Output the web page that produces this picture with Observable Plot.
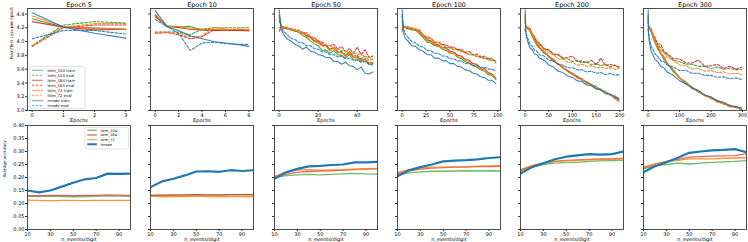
<!DOCTYPE html>
<html><head><meta charset="utf-8">
<script src="https://cdn.jsdelivr.net/npm/d3@7"></script>
<script src="https://cdn.jsdelivr.net/npm/@observablehq/plot@0.6"></script>
<style>
body{margin:0;background:#fff}
#fig{position:relative;width:748px;height:242px;overflow:hidden;font-family:"DejaVu Sans",sans-serif;background:#fff}
</style></head><body><div id="fig"></div>
<script>
// ---------- Loss data (top row) ----------
const x5 = [0,1,2,3];
const loss5_lstm104_train = [4.33,4.21,4.20,4.18];
const loss5_lstm104_eval  = [3.94,4.24,4.29,4.27];
const loss5_lstm164_train = [4.29,4.21,4.17,4.18];
const loss5_lstm164_eval  = [3.93,4.20,4.24,4.24];
const loss5_lstm72_train  = [4.37,4.22,4.19,4.18];
const loss5_lstm72_eval   = [3.94,4.21,4.26,4.26];
const loss5_inrode_train  = [4.42,4.21,4.12,4.05];
const loss5_inrode_eval   = [4.04,4.16,4.16,4.11];

const x10 = [0,1,2,3,4,5,6,7,8];
const loss10_lstm104_train = [4.38,4.22,4.21,4.22,4.17,4.17,4.17,4.17,4.16];
const loss10_lstm104_eval  = [4.14,4.14,4.14,4.10,4.18,4.20,4.20,4.20,4.20];
const loss10_lstm164_train = [4.36,4.23,4.20,4.18,4.17,4.16,4.16,4.16,4.16];
const loss10_lstm164_eval  = [4.12,4.13,4.10,4.04,4.07,4.17,4.17,4.17,4.15];
const loss10_lstm72_train  = [4.40,4.22,4.22,4.19,4.18,4.18,4.17,4.18,4.17];
const loss10_lstm72_eval   = [4.13,4.14,4.12,4.07,4.08,4.21,4.18,4.18,4.18];
const loss10_inrode_train  = [4.45,4.22,4.16,4.08,4.04,4.00,3.98,3.96,3.93];
const loss10_inrode_eval   = [4.32,4.22,4.12,3.87,3.98,3.99,3.97,3.96,3.96];

const x50 = [0,1,2,4,6,8,10,12,14,16,18,20,22,24,26,28,30,32,34,36,38,40,42,44,46,48];
const loss50_lstm104_train = [4.38,4.22,4.21,4.18,4.19,4.15,4.14,4.09,4.06,4.01,3.97,3.94,3.87,3.88,3.83,3.87,3.81,3.80,3.76,3.81,3.74,3.75,3.71,3.74,3.67,3.68];
const loss50_lstm104_eval  = [4.20,4.21,4.19,4.20,4.17,4.17,4.13,4.14,4.09,4.07,4.01,3.99,3.94,3.95,3.89,3.90,3.85,3.86,3.81,3.85,3.79,3.80,3.75,3.79,3.73,3.74];
const loss50_lstm164_train = [4.36,4.23,4.20,4.20,4.17,4.17,4.13,4.13,4.08,4.07,4.01,4.00,3.95,3.94,3.88,3.92,3.85,3.84,3.79,3.85,3.77,3.78,3.73,3.75,3.69,3.70];
const loss50_lstm164_eval  = [4.15,4.21,4.22,4.19,4.19,4.16,4.16,4.12,4.13,4.07,4.06,4.01,3.99,3.95,3.94,3.96,3.89,3.93,3.85,3.90,3.83,3.92,3.81,3.88,3.77,3.79];
const loss50_lstm72_train  = [4.40,4.22,4.21,4.21,4.17,4.18,4.13,4.13,4.07,4.05,4.00,3.98,3.94,3.93,3.87,3.91,3.84,3.84,3.79,3.83,3.77,3.77,3.73,3.74,3.69,3.69];
const loss50_lstm72_eval   = [4.16,4.21,4.21,4.19,4.19,4.16,4.17,4.13,4.13,4.06,4.05,3.99,3.98,3.94,3.94,3.90,3.89,3.87,3.86,3.83,3.83,3.82,3.81,3.78,3.78,3.74];
const loss50_inrode_train  = [4.46,4.18,4.12,4.04,4.01,3.96,3.94,3.89,3.92,3.86,3.85,3.81,3.80,3.77,3.77,3.71,3.71,3.67,3.70,3.65,3.64,3.59,3.63,3.54,3.53,3.56];
const loss50_inrode_eval   = [4.30,4.22,4.16,4.10,4.05,4.03,3.99,3.98,3.94,3.94,3.90,3.89,3.85,3.85,3.81,3.81,3.78,3.79,3.75,3.76,3.73,3.73,3.70,3.71,3.67,3.66];

const x100 = [0,1,3,6,10,14,18,22,26,30,34,38,42,46,50,54,58,62,66,70,74,78,82,86,90,94,98];
const loss100_lstm104_train = [4.38,4.22,4.20,4.19,4.17,4.17,4.11,4.06,3.99,3.98,3.94,3.93,3.89,3.87,3.83,3.83,3.77,3.75,3.71,3.69,3.65,3.63,3.59,3.57,3.52,3.51,3.45];
const loss100_lstm104_eval  = [4.18,4.20,4.21,4.18,4.19,4.16,4.15,4.07,4.05,4.00,3.99,3.95,3.96,3.91,3.91,3.88,3.89,3.85,3.85,3.81,3.81,3.78,3.79,3.75,3.76,3.72,3.73];
const loss100_lstm164_train = [4.36,4.23,4.21,4.21,4.18,4.18,4.13,4.09,4.02,4.01,3.96,3.95,3.91,3.91,3.86,3.85,3.80,3.79,3.74,3.73,3.68,3.67,3.62,3.61,3.55,3.53,3.47];
const loss100_lstm164_eval  = [4.15,4.21,4.22,4.19,4.20,4.17,4.17,4.09,4.07,4.05,3.99,3.99,3.96,3.95,3.92,3.92,3.88,3.89,3.84,3.86,3.81,3.82,3.77,3.79,3.74,3.76,3.69];
const loss100_lstm72_train  = [4.40,4.22,4.21,4.21,4.18,4.18,4.12,4.08,4.01,4.00,3.95,3.94,3.90,3.89,3.84,3.83,3.78,3.77,3.72,3.71,3.66,3.65,3.60,3.59,3.54,3.52,3.46];
const loss100_lstm72_eval   = [4.16,4.21,4.21,4.20,4.18,4.19,4.14,4.10,4.04,4.04,3.99,3.99,3.95,3.94,3.90,3.91,3.87,3.87,3.83,3.83,3.80,3.80,3.76,3.77,3.73,3.73,3.70];
const loss100_inrode_train  = [4.46,4.15,4.05,4.01,3.94,3.93,3.88,3.86,3.81,3.81,3.76,3.76,3.72,3.72,3.68,3.68,3.64,3.63,3.59,3.58,3.54,3.53,3.49,3.48,3.44,3.44,3.39];
const loss100_inrode_eval   = [4.30,4.20,4.12,4.06,4.00,3.98,3.93,3.92,3.87,3.87,3.83,3.83,3.79,3.79,3.75,3.75,3.72,3.72,3.68,3.69,3.65,3.66,3.62,3.63,3.60,3.60,3.57];

const x200 = [0,1,3,6,10,15,20,25,30,40,50,60,70,80,90,100,110,120,130,140,150,160,170,180,190,198];
const loss200_lstm104_train = [4.38,4.22,4.20,4.19,4.16,4.07,4.01,3.94,3.91,3.83,3.79,3.71,3.68,3.61,3.58,3.52,3.50,3.44,3.42,3.37,3.35,3.29,3.28,3.22,3.21,3.16];
const loss200_lstm104_eval  = [4.18,4.20,4.21,4.18,4.18,4.10,4.05,3.98,3.96,3.89,3.87,3.81,3.81,3.75,3.75,3.71,3.73,3.69,3.71,3.66,3.68,3.65,3.67,3.63,3.66,3.62];
const loss200_lstm164_train = [4.36,4.23,4.21,4.21,4.15,4.11,4.01,3.98,3.91,3.86,3.78,3.74,3.67,3.63,3.57,3.54,3.48,3.46,3.40,3.38,3.32,3.31,3.25,3.23,3.18,3.15];
const loss200_lstm164_eval  = [4.15,4.21,4.22,4.19,4.19,4.11,4.07,4.00,3.98,3.90,3.88,3.82,3.81,3.76,3.77,3.79,3.71,3.72,3.69,3.73,3.66,3.76,3.65,3.67,3.65,3.64];
const loss200_lstm72_train  = [4.40,4.22,4.21,4.21,4.15,4.10,4.00,3.97,3.90,3.86,3.77,3.73,3.66,3.63,3.56,3.53,3.47,3.45,3.39,3.37,3.32,3.30,3.24,3.23,3.17,3.13];
const loss200_lstm72_eval   = [4.16,4.21,4.21,4.20,4.16,4.12,4.03,4.00,3.94,3.90,3.83,3.81,3.75,3.74,3.70,3.70,3.66,3.67,3.64,3.65,3.62,3.63,3.61,3.62,3.60,3.61];
const loss200_inrode_train  = [4.46,4.15,4.05,3.99,3.91,3.88,3.82,3.81,3.76,3.73,3.66,3.63,3.57,3.55,3.50,3.48,3.43,3.42,3.37,3.36,3.31,3.30,3.25,3.24,3.19,3.18];
const loss200_inrode_eval   = [4.30,4.18,4.10,4.04,3.96,3.93,3.87,3.86,3.81,3.79,3.73,3.72,3.67,3.66,3.62,3.62,3.59,3.59,3.56,3.57,3.54,3.55,3.52,3.54,3.51,3.52];

const x300 = [0,1,3,6,10,15,20,30,40,50,60,80,100,120,140,160,180,200,220,240,260,280,298];
const loss300_lstm104_train = [4.38,4.22,4.20,4.18,4.15,4.06,4.01,3.89,3.83,3.74,3.69,3.56,3.48,3.38,3.34,3.26,3.23,3.17,3.15,3.09,3.08,3.04,3.04];
const loss300_lstm104_eval  = [4.18,4.20,4.21,4.17,4.17,4.09,4.05,3.95,3.91,3.84,3.81,3.73,3.71,3.67,3.67,3.64,3.64,3.61,3.63,3.60,3.61,3.59,3.60];
const loss300_lstm164_train = [4.36,4.23,4.21,4.20,4.14,4.10,4.01,3.93,3.83,3.78,3.69,3.59,3.47,3.41,3.33,3.29,3.22,3.19,3.13,3.11,3.06,3.05,3.01];
const loss300_lstm164_eval  = [4.15,4.21,4.22,4.18,4.18,4.11,4.07,3.97,3.96,3.86,3.83,3.75,3.75,3.69,3.69,3.73,3.64,3.65,3.67,3.61,3.64,3.60,3.63];
const loss300_lstm72_train  = [4.40,4.22,4.21,4.20,4.14,4.09,4.00,3.92,3.82,3.77,3.68,3.59,3.47,3.41,3.32,3.28,3.21,3.18,3.12,3.10,3.05,3.05,3.01];
const loss300_lstm72_eval   = [4.16,4.21,4.21,4.20,4.15,4.11,4.02,3.95,3.87,3.84,3.77,3.73,3.66,3.65,3.60,3.61,3.57,3.58,3.55,3.56,3.53,3.54,3.52];
const loss300_inrode_train  = [4.46,4.12,4.02,3.94,3.85,3.81,3.75,3.71,3.64,3.62,3.56,3.51,3.43,3.39,3.32,3.29,3.22,3.20,3.14,3.12,3.07,3.06,3.02];
const loss300_inrode_eval   = [4.30,4.16,4.07,4.00,3.92,3.89,3.83,3.79,3.72,3.71,3.66,3.63,3.58,3.58,3.54,3.54,3.51,3.51,3.48,3.49,3.46,3.47,3.45];

// ---------- Accuracy data (bottom row) ----------
const nEvents = [10,20,30,40,50,60,70,80,90,100];
const acc5_lstm104 = [0.128,0.127,0.128,0.127,0.126,0.127,0.128,0.128,0.128,0.127];
const acc5_lstm164 = [0.130,0.130,0.131,0.131,0.130,0.131,0.131,0.133,0.132,0.131];
const acc5_lstm72  = [0.113,0.112,0.110,0.112,0.112,0.111,0.112,0.112,0.112,0.112];
const acc5_inrode  = [0.150,0.143,0.150,0.165,0.180,0.193,0.198,0.215,0.214,0.215];
const acc10_lstm104 = [0.130,0.131,0.131,0.132,0.134,0.133,0.133,0.134,0.134,0.133];
const acc10_lstm164 = [0.132,0.132,0.133,0.133,0.134,0.133,0.132,0.134,0.134,0.134];
const acc10_lstm72  = [0.128,0.126,0.127,0.127,0.128,0.127,0.127,0.127,0.127,0.126];
const acc10_inrode  = [0.163,0.185,0.195,0.208,0.223,0.224,0.222,0.228,0.225,0.228];
const acc50_lstm104 = [0.200,0.207,0.210,0.212,0.210,0.212,0.214,0.216,0.214,0.213];
const acc50_lstm164 = [0.200,0.213,0.220,0.223,0.225,0.226,0.228,0.230,0.232,0.233];
const acc50_lstm72  = [0.205,0.220,0.228,0.230,0.228,0.229,0.230,0.232,0.234,0.235];
const acc50_inrode  = [0.195,0.220,0.233,0.243,0.245,0.248,0.250,0.258,0.258,0.260];
const acc100_lstm104 = [0.210,0.218,0.222,0.224,0.224,0.225,0.226,0.225,0.226,0.225];
const acc100_lstm164 = [0.215,0.225,0.232,0.236,0.238,0.240,0.240,0.242,0.242,0.243];
const acc100_lstm72  = [0.220,0.230,0.236,0.240,0.240,0.241,0.242,0.244,0.245,0.246];
const acc100_inrode  = [0.205,0.228,0.240,0.250,0.262,0.265,0.267,0.270,0.275,0.278];
const acc200_lstm104 = [0.225,0.240,0.250,0.255,0.258,0.258,0.262,0.264,0.265,0.266];
const acc200_lstm164 = [0.228,0.245,0.255,0.262,0.266,0.268,0.270,0.272,0.272,0.274];
const acc200_lstm72  = [0.230,0.246,0.256,0.262,0.265,0.266,0.268,0.269,0.270,0.272];
const acc200_inrode  = [0.215,0.240,0.255,0.270,0.280,0.285,0.290,0.288,0.290,0.300];
const acc300_lstm104 = [0.233,0.245,0.250,0.255,0.252,0.255,0.258,0.260,0.262,0.265];
const acc300_lstm164 = [0.237,0.250,0.262,0.270,0.278,0.280,0.282,0.283,0.284,0.292];
const acc300_lstm72  = [0.240,0.252,0.260,0.266,0.272,0.272,0.272,0.274,0.275,0.276];
const acc300_inrode  = [0.220,0.243,0.259,0.276,0.295,0.300,0.304,0.306,0.309,0.297];

// ---------- tick labels / titles ----------
const titles = ["Epoch 5","Epoch 10","Epoch 50","Epoch 100","Epoch 200","Epoch 300"];
const lossTicksY = [3.0,3.2,3.4,3.6,3.8,4.0,4.2,4.4];
const accTicksY = [0,0.05,0.10,0.15,0.20,0.25,0.30,0.35,0.40];
const accTicksX = [10,30,50,70,90];
const lossTicksX = [[0,1,2,3],[0,2,4,6,8],[0,20,40],[0,25,50,75,100],[0,50,100,150,200],[0,100,200,300]];
const lossDomX = [[-0.15,3.15],[-0.4,8.4],[-2.4,50.4],[-4.9,102.9],[-9.9,207.9],[-14.9,312.9]];
const lossLegend = ["lstm_104 train","lstm_104 eval","lstm_164 train","lstm_164 eval","lstm_72 train","lstm_72 eval","inrode train","inrode eval"];
const accLegend = ["lstm_104","lstm_164","lstm_72","inrode"];

const COL = {lstm_104:"#2ca02c", lstm_164:"#d62728", lstm_72:"#ff7f0e", inrode:"#1f77b4"};
const models = ["lstm_104","lstm_164","lstm_72","inrode"];

const lossSeries = [
  [x5,  [loss5_lstm104_train,loss5_lstm104_eval,loss5_lstm164_train,loss5_lstm164_eval,loss5_lstm72_train,loss5_lstm72_eval,loss5_inrode_train,loss5_inrode_eval]],
  [x10, [loss10_lstm104_train,loss10_lstm104_eval,loss10_lstm164_train,loss10_lstm164_eval,loss10_lstm72_train,loss10_lstm72_eval,loss10_inrode_train,loss10_inrode_eval]],
  [x50, [loss50_lstm104_train,loss50_lstm104_eval,loss50_lstm164_train,loss50_lstm164_eval,loss50_lstm72_train,loss50_lstm72_eval,loss50_inrode_train,loss50_inrode_eval]],
  [x100,[loss100_lstm104_train,loss100_lstm104_eval,loss100_lstm164_train,loss100_lstm164_eval,loss100_lstm72_train,loss100_lstm72_eval,loss100_inrode_train,loss100_inrode_eval]],
  [x200,[loss200_lstm104_train,loss200_lstm104_eval,loss200_lstm164_train,loss200_lstm164_eval,loss200_lstm72_train,loss200_lstm72_eval,loss200_inrode_train,loss200_inrode_eval]],
  [x300,[loss300_lstm104_train,loss300_lstm104_eval,loss300_lstm164_train,loss300_lstm164_eval,loss300_lstm72_train,loss300_lstm72_eval,loss300_inrode_train,loss300_inrode_eval]]
];
const accSeries = [
  [acc5_lstm104,acc5_lstm164,acc5_lstm72,acc5_inrode],
  [acc10_lstm104,acc10_lstm164,acc10_lstm72,acc10_inrode],
  [acc50_lstm104,acc50_lstm164,acc50_lstm72,acc50_inrode],
  [acc100_lstm104,acc100_lstm164,acc100_lstm72,acc100_inrode],
  [acc200_lstm104,acc200_lstm164,acc200_lstm72,acc200_inrode],
  [acc300_lstm104,acc300_lstm164,acc300_lstm72,acc300_inrode]
];

// ---------- layout ----------
const fig = document.getElementById("fig");
const FL = [27,150,274,397,520,643];
const FW = 103;
const TOP = {y0: 7.5, h: 102};
const BOT = {y0: 125, h: 104};

function place(el, left, top) {
  el.style.position = "absolute";
  el.style.left = left + "px";
  el.style.top = top + "px";
  fig.appendChild(el);
}

function makePanel(i, row, opts) {
  const mL = i === 0 ? 27 : 2, mR = 3, mT = 8, mB = 16;
  const marks = [...opts.lines,
    Plot.frame({stroke: "#3a3a3a", strokeWidth: 0.9}),
    Plot.axisX({ticks: opts.xTicks, tickSize: 2, tickPadding: 0.5, fontSize: 5, label: null, tickFormat: d => String(d), stroke: "#333", fill: "black"}),
    Plot.axisY({ticks: opts.yTicks, tickSize: 2, tickPadding: 1, fontSize: 5, label: null, stroke: "#333", fill: "black",
      tickFormat: i === 0 ? opts.yFmt : () => ""}),
    Plot.text([opts.xLabel], {frameAnchor: "bottom", lineAnchor: "top", dy: opts.xLabelDy, fontSize: opts.xLabelSize, fill: "black", stroke: "none"})
  ];
  if (opts.title) marks.push(Plot.text([opts.title], {frameAnchor: "top", lineAnchor: "bottom", dy: -2, fontSize: 6.4, fill: "black", stroke: "none"}));
  if (i === 0) marks.push(Plot.text([opts.yLabel], {frameAnchor: "left", rotate: -90, dx: opts.yLabelDx, fontSize: 4.2, fill: "black", stroke: "none"}));
  const svg = Plot.plot({
    width: FW + mL + mR, height: row.h + mT + mB,
    marginLeft: mL, marginRight: mR, marginTop: mT, marginBottom: mB,
    x: {domain: opts.xDomain}, y: {domain: opts.yDomain},
    style: {fontFamily: "DejaVu Sans", background: "transparent", color: "black"},
    marks
  });
  svg.style.overflow = "visible";
  place(svg, FL[i] - mL, row.y0 - mT);
}

for (let i = 0; i < 6; i++) {
  const [xs, ser] = lossSeries[i];
  const lines = ser.map((ys, k) => {
    const m = models[Math.floor(k / 2)];
    const dashed = k % 2 === 1;
    return Plot.line(xs.map((x, j) => ({x, y: ys[j]})), {
      x: "x", y: "y", stroke: COL[m], strokeWidth: 1.1, strokeOpacity: 0.9,
      strokeDasharray: dashed ? "2.6,1.6" : null, clip: true
    });
  });
  makePanel(i, TOP, {
    lines, xTicks: lossTicksX[i], xDomain: lossDomX[i], yTicks: lossTicksY, yDomain: [3.0, 4.48],
    yFmt: d3.format(".1f"), xLabel: "Epochs", xLabelDy: 7.5, xLabelSize: 5,
    title: titles[i], yLabel: "Train/Test Loss per Epoch", yLabelDx: -16
  });
}

for (let i = 0; i < 6; i++) {
  const lines = accSeries[i].map((ys, k) => {
    const m = models[k];
    const isInrode = m === "inrode";
    return Plot.line(nEvents.map((x, j) => ({x, y: ys[j]})), {
      x: "x", y: "y", stroke: COL[m], strokeWidth: isInrode ? 2.2 : 1.3, strokeOpacity: isInrode ? 1 : (m === "lstm_72" ? 0.85 : 0.7), clip: true
    });
  });
  makePanel(i, BOT, {
    lines, xTicks: accTicksX, xDomain: [10, 100], yTicks: accTicksY, yDomain: [0, 0.4],
    yFmt: d3.format(".2f"), xLabel: "n_events/digit", xLabelDy: 8, xLabelSize: 5,
    title: null, yLabel: "Average accuracy", yLabelDx: -23
  });
}

// ---------- legends ----------
function legend(x, y, w, h, rows, y0, dy, swX0, swX1, txX, fs, styleFn) {
  const svg = d3.create("svg").attr("width", 748).attr("height", 242)
    .style("pointer-events", "none").style("font-family", "DejaVu Sans");
  svg.append("rect").attr("x", x).attr("y", y).attr("width", w).attr("height", h)
    .attr("rx", 1.5).attr("fill", "white").attr("fill-opacity", 0.85).attr("stroke", "#ccc").attr("stroke-width", 0.6);
  rows.forEach((label, k) => {
    const yy = y0 + k * dy;
    const s = styleFn(k);
    svg.append("line").attr("x1", swX0).attr("x2", swX1).attr("y1", yy).attr("y2", yy)
      .attr("stroke", s.color).attr("stroke-width", s.width).attr("stroke-opacity", s.opacity)
      .attr("stroke-dasharray", s.dash || null);
    svg.append("text").attr("x", txX).attr("y", yy).attr("dy", "0.35em")
      .attr("font-size", fs).attr("fill", "black").text(label);
  });
  place(svg.node(), 0, 0);
}
legend(30, 66.5, 55, 42, lossLegend, 70.3, 5.05, 32, 43, 47.5, 3.8,
  k => ({color: COL[models[Math.floor(k / 2)]], width: 1.4, opacity: 0.55, dash: k % 2 ? "2.4,1.4" : null}));
legend(85, 127.5, 43.5, 21.5, accLegend, 130.3, 4.65, 87.3, 96.8, 100.5, 3.6,
  k => ({color: COL[models[k]], width: k === 3 ? 2 : 1.3, opacity: k === 3 ? 1 : 0.7}));
</script></body></html>
